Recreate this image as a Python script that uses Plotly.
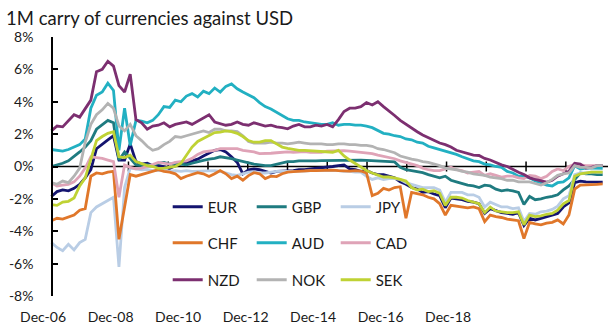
import pandas as pd
import plotly.graph_objects as go

TITLE = "1M carry of currencies against USD"

# observation dates (every two months)
DATES = pd.date_range("2007-03-01", periods=99, freq="2MS")

EUR = [-1.85, -1.55, -1.45, -1.5, -1.35, -1.1, -0.7, -0.2, 1.1, 1.4,
       1.65, 1.9, 0.4, 0.4, 1.4, 0.3, 0.15, 0.2, 0.05, 0.05,
       0.0, -0.12, 0.05, 0.16, 0.2, 0.35, 0.45, 0.65, 0.85, 1.0,
       1.05, 0.9, 0.6, 0.25, -0.45, -0.2, -0.15, -0.2, -0.3, -0.4,
       -0.3, -0.28, -0.3, -0.25, -0.2, -0.2, -0.15, -0.12, -0.1, -0.05,
       0.0, 0.05, 0.1, -0.15, -0.2, -0.3, -0.25, -0.4, -0.5, -0.5,
       -0.62, -0.7, -0.95, -1.1, -1.3, -1.4, -1.6, -1.55, -1.7, -1.8,
       -2.55, -1.95, -2.0, -2.05, -2.15, -2.2, -2.3, -2.9, -2.6, -2.75,
       -2.85, -2.9, -2.95, -2.85, -3.65, -3.2, -3.3, -3.2, -3.1, -3.0,
       -2.9, -2.5, -2.25, -1.0, -0.9, -0.95, -0.97, -0.97, -0.97]

GBP = [0.0, 0.1, 0.2, 0.35, 0.6, 0.9, 1.2, 1.6, 2.3, 2.6,
       2.85, 2.7, 0.4, 0.9, 0.5, 0.1, 0.05, 0.12, 0.05, 0.2,
       0.25, 0.15, 0.2, 0.15, 0.1, 0.2, 0.3, 0.38, 0.45, 0.5,
       0.6, 0.55, 0.48, 0.4, 0.3, 0.2, 0.15, 0.1, 0.05, 0.05,
       0.15, 0.25, 0.3, 0.3, 0.35, 0.35, 0.33, 0.35, 0.36, 0.37,
       0.38, 0.4, 0.38, 0.4, 0.42, 0.4, 0.38, 0.36, 0.35, 0.3,
       0.3, 0.28, -0.05, -0.2, -0.25, -0.3, -0.38, -0.5, -0.6, -0.7,
       -0.6, -0.85, -0.95, -1.05, -1.15, -1.2, -1.3, -1.15, -1.2, -1.4,
       -1.5, -1.45, -1.5, -1.6, -2.35, -1.85, -2.05, -2.0, -1.9, -1.85,
       -1.75, -1.45, -1.2, -0.8, -0.4, -0.45, -0.45, -0.5, -0.5]

JPY = [-4.7, -5.0, -5.2, -4.8, -5.15, -4.7, -4.5, -2.85, -2.5, -2.3,
       -2.15, -1.9, -6.2, -1.3, -0.1, -0.15, -0.2, -0.18, -0.25, -0.25,
       -0.2, -0.3, -0.25, -0.3, -0.25, -0.3, -0.28, -0.3, -0.25, -0.25,
       -0.3, -0.4, -0.5, -0.55, -0.45, -0.35, -0.35, -0.4, -0.4, -0.35,
       -0.3, -0.3, -0.3, -0.28, -0.3, -0.28, -0.25, -0.25, -0.25, -0.22,
       -0.25, -0.25, -0.3, -0.3, -0.35, -0.35, -0.6, -0.8, -0.7, -0.8,
       -0.75, -0.75, -0.8, -1.0, -1.1, -1.2, -1.3, -1.3, -1.3, -1.45,
       -2.2, -1.6, -1.6, -1.6, -1.75, -1.75, -1.9, -2.5, -2.2, -2.35,
       -2.5, -2.5, -2.6, -2.55, -3.4, -2.9, -2.95, -2.8, -2.75, -2.65,
       -2.45, -2.0, -1.8, -0.5, -0.4, -0.4, -0.35, -0.35, -0.35]

CHF = [-3.35, -3.2, -3.25, -3.1, -3.0, -2.7, -2.6, -0.6, -0.4, -0.45,
       -0.35, -0.3, -4.5, -2.5, -0.5, -0.6, -0.5, -0.38, -0.3, -0.2,
       -0.3, -0.35, -0.45, -0.75, -0.6, -0.5, -0.38, -0.45, -0.62, -0.45,
       -0.25, -0.45, -0.75, -0.6, -0.85, -0.56, -0.38, -0.45, -0.75, -0.6,
       -0.62, -0.45, -0.35, -0.32, -0.29, -0.27, -0.25, -0.25, -0.24, -0.2,
       -0.22, -0.25, -0.28, -0.29, -0.25, -0.28, -0.4, -1.8, -1.65, -1.35,
       -1.45, -1.3, -1.25, -3.2, -1.6, -1.7, -1.75, -1.9, -2.0, -2.3,
       -3.0, -2.4, -2.45, -2.5, -2.55, -2.5, -2.6, -3.4, -3.0, -3.1,
       -3.15, -3.25, -3.3, -3.35, -4.45, -3.45, -3.55, -3.6, -3.5, -3.45,
       -3.3, -3.55, -3.0, -1.4, -1.15, -1.15, -1.12, -1.1, -1.07]

AUD = [1.05, 1.0, 0.95, 1.05, 1.2, 1.35, 1.7, 3.6, 4.4, 4.6,
       5.15, 4.7, 1.0, 3.6, 1.3, 2.85, 2.8, 2.7, 2.85, 3.2,
       3.7, 3.65, 4.1, 4.0, 4.35, 4.5, 4.3, 4.65, 4.5, 4.85,
       4.6, 4.95, 5.1, 4.8, 4.6, 4.4, 4.25, 3.95, 3.7, 3.55,
       3.35, 3.15, 2.95, 2.85, 2.85, 2.75, 2.7, 2.65, 2.6, 2.6,
       2.7, 2.55, 2.6, 2.6, 2.55, 2.55, 2.5, 2.4, 2.2, 2.05,
       2.0, 1.9, 1.85, 1.7, 1.65, 1.5, 1.45, 1.25, 1.15, 1.05,
       0.95, 0.85, 0.75, 0.6, 0.5, 0.35, 0.3, 0.15, 0.1, 0.0,
       -0.05, -0.3, -0.4, -0.6, -0.6, -0.7, -0.9, -1.0, -1.15, -1.2,
       -1.0, -0.95, -0.7, 0.05, -0.15, -0.1, -0.1, -0.1, -0.12]

CAD = [-1.0, -1.2, -1.15, -1.1, -0.95, -0.6, -0.1, 0.6, 0.55, 0.5,
       0.4, 0.3, -1.9, 0.1, -0.05, -0.15, -0.1, 0.0, 0.12, 0.25,
       0.2, 0.15, 0.25, 0.3, 0.35, 0.5, 0.75, 0.9, 0.95, 1.0,
       1.1, 1.1, 1.1, 1.1, 1.0, 0.95, 0.9, 0.8, 0.8, 0.82,
       0.85, 0.88, 0.9, 0.88, 0.9, 0.92, 0.88, 0.86, 0.88, 0.95,
       0.97, 1.0, 0.98, 0.95, 0.92, 0.88, 0.85, 0.8, 0.7, 0.62,
       0.55, 0.48, 0.35, 0.25, 0.12, 0.05, -0.1, -0.2, -0.25, -0.25,
       -0.15, -0.05, -0.2, -0.25, -0.4, -0.35, -0.3, -0.55, -0.45, -0.55,
       -0.65, -0.6, -0.6, -0.7, -0.75, -0.55, -0.6, -0.75, -0.6, -0.3,
       -0.15, -0.25, 0.0, 0.15, 0.1, 0.05, 0.05, 0.05, 0.05]

NZD = [2.2, 2.5, 2.45, 2.8, 3.2, 3.05, 3.55, 4.1, 5.85, 6.0,
       6.5, 6.2, 5.0, 4.6, 5.7, 2.9, 2.7, 2.3, 2.5, 2.55,
       2.7, 2.45, 2.6, 2.7, 2.75, 2.6, 2.8, 3.0, 3.2, 2.75,
       2.65, 2.55, 2.6, 2.75, 2.6, 2.55, 2.7, 2.6, 2.5, 2.55,
       2.45, 2.4, 2.33, 2.5, 2.6, 2.45, 2.45, 2.55, 2.5, 2.6,
       2.45, 2.9, 3.4, 3.6, 3.6, 3.7, 3.95, 3.8, 4.0, 3.7,
       3.4, 3.15, 2.85, 2.6, 2.35, 2.15, 1.95, 1.8, 1.6, 1.45,
       1.35, 1.2, 1.0, 0.9, 0.78, 0.7, 0.68, 0.5, 0.4, 0.25,
       0.1, 0.0, -0.15, -0.35, -0.5, -0.7, -0.8, -0.9, -0.97, -0.85,
       -0.6, -0.45, -0.3, 0.2, 0.15, -0.1, -0.05, 0.05, 0.05]

NOK = [-1.0, -1.1, -0.9, -1.0, -0.6, -0.1, 1.5, 2.6, 3.2, 3.5,
       3.9, 3.6, 2.5, 2.2, 2.6, 1.9, 1.6, 1.25, 1.0, 1.1,
       1.35, 1.55, 1.85, 1.8, 1.9, 2.0, 2.1, 2.2, 2.1, 2.3,
       2.3, 2.2, 2.2, 2.15, 1.9, 1.55, 1.45, 1.45, 1.45, 1.5,
       1.45, 1.45, 1.4, 1.45, 1.5, 1.45, 1.4, 1.4, 1.4, 1.35,
       1.35, 1.4, 1.4, 1.35, 1.35, 1.3, 1.3, 1.25, 1.1, 1.05,
       0.95, 0.85, 0.65, 0.55, 0.45, 0.4, 0.3, 0.25, 0.15, 0.05,
       -0.1, -0.15, -0.2, -0.3, -0.35, -0.45, -0.5, -0.55, -0.65, -0.7,
       -0.75, -0.85, -0.85, -0.95, -0.95, -0.95, -1.05, -1.15, -1.0, -0.8,
       -0.55, -0.45, -0.4, 0.05, -0.05, -0.05, -0.1, 0.05, 0.05]

SEK = [-2.35, -2.4, -2.2, -2.15, -1.95, -1.2, -0.7, 0.4, 1.6, 1.85,
       2.05, 2.15, 0.6, 0.55, 0.7, 0.3, 0.15, 0.05, 0.0, -0.12,
       -0.1, -0.05, 0.0, 0.2, 0.7, 1.2, 1.55, 1.75, 1.9, 2.1,
       2.12, 2.2, 2.15, 2.05, 1.85, 1.6, 1.5, 1.5, 1.6, 1.6,
       1.4, 1.2, 1.12, 1.05, 1.0, 1.0, 0.98, 0.95, 0.9, 0.88,
       0.88, 1.0, 0.65, 0.4, 0.2, -0.05, -0.25, -0.4, -0.55, -0.65,
       -0.65, -0.7, -0.8, -0.9, -1.3, -1.45, -1.4, -1.55, -1.5, -1.65,
       -2.4, -1.9, -1.9, -1.95, -2.1, -2.2, -2.3, -2.85, -2.5, -2.75,
       -2.8, -2.85, -2.85, -2.8, -3.6, -3.0, -3.1, -3.05, -2.95, -2.9,
       -2.7, -2.3, -2.1, -0.6, -0.45, -0.4, -0.35, -0.35, -0.35]

SERIES = [("EUR", EUR), ("GBP", GBP), ("JPY", JPY),
          ("CHF", CHF), ("AUD", AUD), ("CAD", CAD),
          ("NZD", NZD), ("NOK", NOK), ("SEK", SEK)]

COLORS = {"EUR": "#14146f", "GBP": "#1f7b80", "JPY": "#b9cde5",
          "CHF": "#e0772a", "AUD": "#22b0c2", "CAD": "#dfa3b7",
          "NZD": "#7c2f70", "NOK": "#b3b3b3", "SEK": "#bfd234"}

X_TICK_DATES = ["2006-12-01", "2008-12-01", "2010-12-01", "2012-12-01",
                "2014-12-01", "2016-12-01", "2018-12-01"]
X_TICK_LABELS = ["Dec-06", "Dec-08", "Dec-10", "Dec-12", "Dec-14", "Dec-16", "Dec-18"]
Y_TICK_VALUES = [-8, -6, -4, -2, 0, 2, 4, 6, 8]
Y_TICK_LABELS = ["-8%", "-6%", "-4%", "-2%", "0%", "2%", "4%", "6%", "8%"]

# ---------------- layout helpers ----------------
W, H = 615, 331
ML, MR, MT, MB = 34, 7, 37, 35
PW = W - ML - MR
PH = H - MT - MB
REF_DATE = pd.Timestamp("2007-03-01")
REF_PX = 51.4
PX_PER_DAY = 2.8125 / 30.4375


def px_to_date(px):
    return REF_DATE + pd.Timedelta(days=(px - REF_PX) / PX_PER_DAY)


X_RANGE = [px_to_date(ML), px_to_date(ML + PW)]
ZERO_TICKS = [px_to_date(88.7 + k * 39.76) for k in range(13)]
TICK_HALF = 5 * 16 / PH  # 5 px expressed in axis units
FONT = "Lato"
TXT = "#1a1a1a"

fig = go.Figure()
legends = ["legend", "legend", "legend", "legend2", "legend2", "legend2",
           "legend3", "legend3", "legend3"]
for (name, vals), lg in zip(SERIES, legends):
    fig.add_trace(go.Scatter(x=DATES, y=vals, name=name, mode="lines",
                             line=dict(color=COLORS[name], width=2.8),
                             legend=lg, hoverinfo="skip"))

# horizontal axis crossing at 0, with its tick marks
fig.add_shape(type="line", xref="x", yref="y", x0=DATES[0], x1=X_RANGE[1],
              y0=0, y1=0, line=dict(color="black", width=1.5), layer="below")
for t in ZERO_TICKS:
    fig.add_shape(type="line", xref="x", yref="y", x0=t, x1=t,
                  y0=-TICK_HALF, y1=TICK_HALF,
                  line=dict(color="black", width=1.5), layer="below")


def leg(px_x, px_y):
    return dict(orientation="h", x=(px_x - ML) / PW, y=(MT + PH - px_y) / PH,
                xanchor="left", yanchor="middle", entrywidth=39,
                entrywidthmode="pixels", bgcolor="rgba(0,0,0,0)",
                font=dict(family=FONT, size=15, color=TXT), tracegroupgap=0)


fig.update_layout(
    width=W, height=H,
    margin=dict(l=ML, r=MR, t=MT, b=MB, pad=0),
    paper_bgcolor="white", plot_bgcolor="white",
    title=dict(text=TITLE, x=6 / W, xref="container", xanchor="left",
               y=1 - 19 / H, yref="container", yanchor="middle",
               font=dict(family=FONT, size=18.5, color=TXT)),
    xaxis=dict(type="date", range=X_RANGE, showline=False, showgrid=False,
               zeroline=False, ticks="", tickmode="array",
               tickvals=X_TICK_DATES, ticktext=X_TICK_LABELS,
               ticklabelstandoff=11,
               tickfont=dict(family=FONT, size=14, color=TXT)),
    yaxis=dict(range=[-8, 8], anchor="free", position=(52 - ML) / PW,
               showline=True, linecolor="black", linewidth=1.5,
               ticks="inside", ticklen=5, tickwidth=1.5, tickcolor="black",
               tickmode="array", tickvals=Y_TICK_VALUES, ticktext=Y_TICK_LABELS,
               showgrid=False, zeroline=False, ticklabelstandoff=15,
               tickfont=dict(family=FONT, size=14, color=TXT)),
    legend=leg(167.7, 207),
    legend2=leg(167.7, 243),
    legend3=leg(167.7, 280),
    showlegend=True,
)

fig.write_html("out.html")
